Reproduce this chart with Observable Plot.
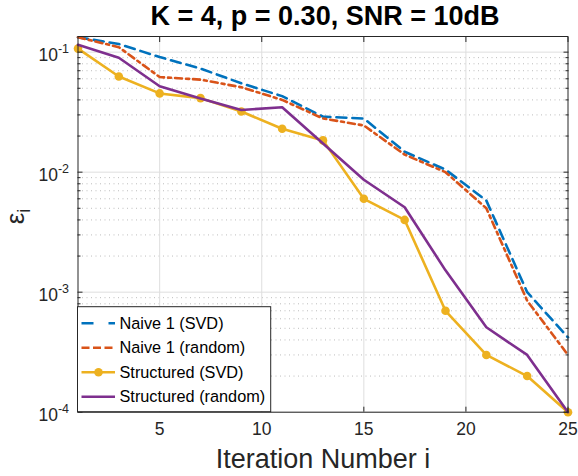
<!DOCTYPE html>
<html><head><meta charset="utf-8">
<script src="https://cdn.jsdelivr.net/npm/d3@7"></script>
<script src="https://cdn.jsdelivr.net/npm/@observablehq/plot@0.6"></script>
<style>
body{margin:0;background:#fff;font-family:"Liberation Sans",Arial,sans-serif;}
#wrap{position:relative;width:578px;height:476px;}
#title{position:absolute;left:80px;width:490px;top:1px;height:30px;line-height:30px;text-align:center;font-weight:bold;font-size:27px;color:#000;}
#chart{position:absolute;left:0;top:30px;}
</style></head><body>
<div id="wrap"><div id="chart"></div><div id="title">K = 4, p = 0.30, SNR = 10dB</div></div>
<script>
const iterations = [1,3,5,7,9,11,13,15,17,19,21,23,25];
const naiveSVD = [0.133,0.117,0.091,0.073,0.055,0.043,0.029,0.028,0.0148,0.0105,0.0058,0.001,0.00042];
const naiveRandom = [0.133,0.11,0.062,0.059,0.051,0.040,0.028,0.0245,0.014,0.010,0.005,0.00085,0.0003];
const structSVD = [0.107,0.0627,0.0453,0.0414,0.032,0.023,0.0184,0.006,0.004,0.0007,0.0003,0.0002,0.0001];
const structRandom = [0.115,0.0898,0.052,0.041,0.033,0.0347,0.0173,0.00865,0.0051,0.00152,0.00051,0.0003,0.0001];
const seriesNames = ["Naive 1 (SVD)","Naive 1 (random)","Structured (SVD)","Structured (random)"];
const seriesColors = ["#0072BD","#D95319","#EDB120","#7E2F8E"];
const xTicks = [5,10,15,20,25];
const yTicks = [1e-4,1e-3,1e-2,1e-1];
const yMinor = [];
for (const d of [1e-4,1e-3,1e-2]) for (let m = 2; m <= 9; m++) yMinor.push(m*d);

const allSeries = [naiveSVD, naiveRandom, structSVD, structRandom];
const rows = allSeries.map((vals, s) => iterations.map((x, i) => ({x, y: vals[i], s: seriesNames[s]})));

const W = 578, H = 446;
const font = "Liberation Sans, Arial, sans-serif";
const plot = Plot.plot({
  width: W, height: H,
  marginLeft: 77.5, marginRight: 10.5, marginTop: 6, marginBottom: 64.3,
  style: {fontFamily: font, background: "#fff", color: "#262626"},
  x: {domain: [1, 25]},
  y: {type: "log", domain: [1e-4, 0.135]},
  marks: [
    Plot.ruleY(yMinor, {stroke: "#bdbdbd", strokeDasharray: "1,3.5", strokeWidth: 1}),
    Plot.gridY(yTicks, {stroke: "#dedede", strokeOpacity: 1}),
    Plot.gridX(xTicks.slice(0, -1), {stroke: "#dedede", strokeOpacity: 1}),
    Plot.line(rows[0], {x: "x", y: "y", stroke: seriesColors[0], strokeWidth: 2.6, strokeDasharray: "10,6"}),
    Plot.line(rows[1], {x: "x", y: "y", stroke: seriesColors[1], strokeWidth: 2.6, strokeDasharray: "7,4,3,4"}),
    Plot.line(rows[2], {x: "x", y: "y", stroke: seriesColors[2], strokeWidth: 2.6}),
    Plot.dot(rows[2], {x: "x", y: "y", fill: seriesColors[2], r: 4.3}),
    Plot.line(rows[3], {x: "x", y: "y", stroke: seriesColors[3], strokeWidth: 2.6}),
    Plot.frame({stroke: "#262626", strokeWidth: 1}),
    Plot.axisY(yTicks, {anchor: "left", tickSize: -5, fill: "none", stroke: "#262626"}),
    Plot.axisY(yTicks, {anchor: "right", tickSize: -5, fill: "none", stroke: "#262626"}),
    Plot.axisY(yMinor, {anchor: "left", tickSize: -3, fill: "none", stroke: "#262626"}),
    Plot.axisY(yMinor, {anchor: "right", tickSize: -3, fill: "none", stroke: "#262626"}),
    Plot.axisX(xTicks, {anchor: "bottom", tickSize: -5, fill: "none", stroke: "#262626"}),
    Plot.axisX(xTicks, {anchor: "top", tickSize: -5, fill: "none", stroke: "#262626"}),
    Plot.axisX(xTicks, {anchor: "bottom", tickSize: 0, tickPadding: 10, fontSize: 17.5, fill: "#262626", label: null}),
    Plot.axisY(yTicks, {anchor: "left", tickSize: 0, tickPadding: 9, fontSize: 17.5, fill: "#262626", label: null,
      tickFormat: d => "10^" + Math.round(Math.log10(d))}),
    Plot.text(["Iteration Number i"], {text: d => d, frameAnchor: "bottom", dy: 56, fontSize: 27, fill: "#262626"}),
    Plot.text(["ε"], {text: d => d, frameAnchor: "left", dx: -62, rotate: -90, fontSize: 26, fill: "#262626"})
  ]
});
document.getElementById("chart").appendChild(plot);

const svg = d3.select(plot);
// superscript tick labels
svg.selectAll('g[aria-label="y-axis tick label"] text').each(function() {
  const t = d3.select(this);
  const [base, exp] = t.text().split("^");
  t.text(null);
  t.append("tspan").attr("dy", "0.18em").text(base);
  t.append("tspan").attr("font-size", 12.5).attr("dy", "-0.62em").text(exp);
});
// subscript on y label
svg.selectAll("text").filter(function() { return this.textContent === "ε"; }).each(function() {
  const t = d3.select(this);
  const base = t.text();
  t.text(null);
  t.append("tspan").text(base);
  t.append("tspan").attr("font-size", 18).attr("dy", "0.3em").text("i");
});

// legend
const lg = svg.append("g").attr("font-family", font).attr("font-size", 16.3).attr("fill", "#000").attr("text-anchor", "start");
const lx0 = 77.5, ly0 = 276.7, lw = 193.2, lh = 105;
lg.append("rect").attr("x", lx0).attr("y", ly0).attr("width", lw).attr("height", lh)
  .attr("fill", "#fff").attr("stroke", "#262626").attr("stroke-width", 1);
const dashes = ["12,15", "8,3.5", null, null];
seriesNames.forEach((name, i) => {
  const cy = ly0 + 16.5 + i * 24.5;
  const ln = lg.append("line").attr("x1", lx0 + 4).attr("x2", lx0 + 37.5).attr("y1", cy).attr("y2", cy)
    .attr("stroke", seriesColors[i]).attr("stroke-width", 2.6);
  if (dashes[i]) ln.attr("stroke-dasharray", dashes[i]);
  if (i === 2) lg.append("circle").attr("cx", lx0 + 21).attr("cy", cy).attr("r", 4.3).attr("fill", seriesColors[i]);
  lg.append("text").attr("x", lx0 + 42).attr("y", cy).attr("dy", "0.35em").text(name);
});
</script>
</body></html>
